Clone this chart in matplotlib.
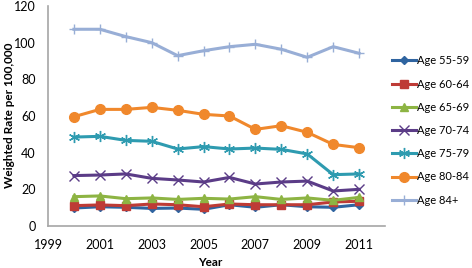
import matplotlib.pyplot as plt

plt.rcParams['font.family'] = ['Lato', 'DejaVu Sans']

years = [2000, 2001, 2002, 2003, 2004, 2005, 2006, 2007, 2008, 2009, 2010, 2011]

age_55_59 = [9.8, 10.5, 10.2, 9.6, 9.8, 9.1, 11.6, 10.2, 11.6, 10.5, 10.2, 11.6]
age_60_64 = [11.1, 11.5, 11.1, 12.0, 11.6, 10.5, 12.0, 11.6, 11.6, 11.6, 13.1, 13.5]
age_65_69 = [16.0, 16.4, 14.9, 15.3, 14.5, 15.1, 14.7, 16.0, 14.5, 15.3, 14.0, 15.6]
age_70_74 = [27.5, 27.8, 28.4, 26.0, 25.1, 24.0, 26.5, 22.9, 24.0, 24.5, 19.1, 20.0]
age_75_79 = [48.5, 48.9, 46.7, 46.2, 42.0, 43.3, 42.0, 42.5, 41.8, 39.3, 28.0, 28.4]
age_80_84 = [59.6, 63.6, 63.6, 64.7, 63.1, 60.9, 60.0, 52.7, 54.7, 51.1, 44.5, 42.7]
age_84_up = [107.3, 107.3, 103.3, 100.0, 92.9, 95.6, 97.8, 99.1, 96.4, 92.0, 97.8, 94.2]

series = [
    ("Age 55-59", age_55_59, "#2F64A0", "D", 4),
    ("Age 60-64", age_60_64, "#BE3B36", "s", 6),
    ("Age 65-69", age_65_69, "#8DB443", "^", 6),
    ("Age 70-74", age_70_74, "#5B3C87", "x", 7),
    ("Age 75-79", age_75_79, "#2E9BB0", (6, 2, 0), 8),
    ("Age 80-84", age_80_84, "#F0882C", "o", 7),
    ("Age 84+", age_84_up, "#98AED6", "+", 7),
]

fig = plt.figure(figsize=(4.72, 2.68), dpi=100)
ax = fig.add_axes([0.1017, 0.1567, 0.714, 0.821])

for name, vals, col, mk, ms in series:
    ax.plot(years, vals, color=col, lw=2.2, marker=mk, markersize=ms,
            markeredgewidth=1.0, label=name)

ax.set_xlim(1999, 2012)
ax.set_ylim(0, 120)
ax.set_xticks([1999, 2001, 2003, 2005, 2007, 2009, 2011])
ax.set_yticks([0, 20, 40, 60, 80, 100, 120])
ax.tick_params(axis="y", length=0, labelsize=9, pad=9)
ax.tick_params(axis="x", length=0, labelsize=9, pad=9)
for s in ["top", "right"]:
    ax.spines[s].set_visible(False)
for s in ["left", "bottom"]:
    ax.spines[s].set_color("#A6A6A6")
    ax.spines[s].set_linewidth(1.2)

fig.text(0.445, 0.022, "Year", fontsize=8.5, fontweight="bold", ha="center", va="center")
fig.text(0.008, 0.569, "Weighted Rate per 100,000", fontsize=8.5, fontweight="bold",
         rotation=90, ha="left", va="center")

fig.legend(loc="upper left", bbox_to_anchor=(0.822, 0.81), frameon=False,
           fontsize=8, handlelength=2.1, handletextpad=0.15, labelspacing=1.1,
           borderaxespad=0)

fig.savefig("out.png", dpi=100)
